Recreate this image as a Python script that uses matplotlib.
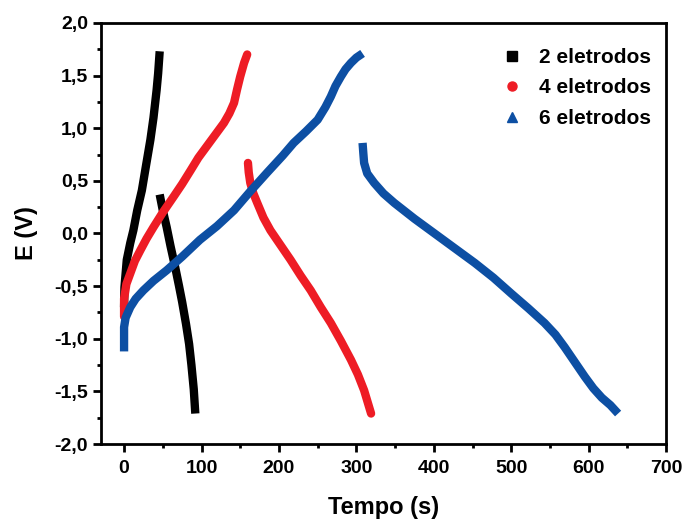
import matplotlib
matplotlib.use("Agg")
import matplotlib.pyplot as plt
from matplotlib.lines import Line2D
from matplotlib.ticker import MultipleLocator, FuncFormatter

plt.rcParams['font.family'] = ['Liberation Sans', 'DejaVu Sans']
plt.rcParams['font.weight'] = 'bold'

labels = ["2 eletrodos", "4 eletrodos", "6 eletrodos"]
colors = ["#000000", "#EE1C25", "#0D4FA3"]
markers = ["s", "o", "^"]

# 2 eletrodos
t2_charge = [0, 0.5, 3.5, 8, 12, 17, 23, 28, 34, 38, 42, 44, 46]
e2_charge = [-0.70, -0.51, -0.25, -0.09, 0.03, 0.22, 0.41, 0.63, 0.89, 1.10, 1.36, 1.52, 1.73]
t2_dis = [46, 50, 55, 60, 66, 71, 75, 80, 84, 87, 90, 92]
e2_dis = [0.37, 0.22, 0.06, -0.12, -0.32, -0.50, -0.65, -0.86, -1.05, -1.25, -1.48, -1.71]

# 4 eletrodos
t4_charge = [0, 0, 3, 8, 14, 21, 29, 38, 50, 64, 75, 86, 96, 107, 118, 129, 136, 142, 146, 150, 155, 159]
e4_charge = [-0.79, -0.62, -0.48, -0.38, -0.26, -0.16, -0.05, 0.06, 0.20, 0.35, 0.47, 0.60, 0.72, 0.83, 0.94, 1.05, 1.14, 1.24, 1.37, 1.49, 1.62, 1.70]
t4_dis = [160, 161, 163, 167, 172, 180, 189, 202, 215, 228, 241, 254, 267, 280, 293, 302, 310, 319]
e4_dis = [0.67, 0.58, 0.48, 0.38, 0.29, 0.15, 0.03, -0.11, -0.25, -0.40, -0.54, -0.70, -0.85, -1.02, -1.20, -1.34, -1.49, -1.71]

# 6 eletrodos
t6_charge = [0, 0, 2, 8, 15, 25, 38, 55, 75, 98, 120, 142, 163, 185, 205, 219, 235, 250, 260, 267, 273, 280, 286, 293, 300, 308]
e6_charge = [-1.12, -0.89, -0.80, -0.70, -0.62, -0.54, -0.45, -0.35, -0.22, -0.06, 0.07, 0.22, 0.40, 0.58, 0.74, 0.86, 0.97, 1.08, 1.20, 1.30, 1.40, 1.49, 1.56, 1.62, 1.67, 1.71]
t6_dis = [308, 309, 310, 314, 323, 335, 349, 375, 401, 427, 453, 477, 500, 522, 543, 557, 569, 582, 595, 606, 617, 628, 638]
e6_dis = [0.86, 0.76, 0.67, 0.57, 0.48, 0.38, 0.29, 0.14, 0.00, -0.14, -0.28, -0.42, -0.57, -0.71, -0.85, -0.96, -1.08, -1.22, -1.36, -1.47, -1.56, -1.63, -1.71]

series = [
    (t2_charge, e2_charge, t2_dis, e2_dis),
    (t4_charge, e4_charge, t4_dis, e4_dis),
    (t6_charge, e6_charge, t6_dis, e6_dis),
]
caps = ["butt", "round", "butt"]

xticks = [0, 100, 200, 300, 400, 500, 600, 700]
yticks = [-2.0, -1.5, -1.0, -0.5, 0.0, 0.5, 1.0, 1.5, 2.0]

fig = plt.figure(figsize=(6.86, 5.20), dpi=100)
ax = fig.add_axes([0.147, 0.146, 0.824, 0.810])

for (tc, ec, td, ed), c, cap in zip(series, colors, caps):
    for tt, ee in ((tc, ec), (td, ed)):
        ax.plot(tt, ee, color=c, lw=6.0, solid_capstyle=cap, solid_joinstyle='round')

ax.set_xlim(-30, 700)
ax.set_ylim(-2.0, 2.0)
ax.set_xticks(xticks)
ax.set_yticks(yticks)
ax.xaxis.set_minor_locator(MultipleLocator(50))
ax.yaxis.set_minor_locator(MultipleLocator(0.25))
ax.yaxis.set_major_formatter(FuncFormatter(lambda v, p: f"{v:.1f}".replace('.', ',')))
ax.xaxis.set_major_formatter(FuncFormatter(lambda v, p: f"{int(round(v))}"))

for s in ax.spines.values():
    s.set_linewidth(2.0)
ax.tick_params(which='major', direction='out', length=5.8, width=2.0, labelsize=14)
ax.tick_params(which='minor', direction='out', length=3.2, width=2.0)
ax.tick_params(axis='x', which='major', pad=5.5)
ax.tick_params(axis='y', which='major', pad=3.5)
for lab in ax.get_xticklabels() + ax.get_yticklabels():
    lab.set_fontweight('bold')

ax.set_xlabel("Tempo (s)", fontsize=17, fontweight='bold', labelpad=14)
ax.set_ylabel("E (V)", fontsize=17, fontweight='bold', labelpad=12)

handles = [Line2D([], [], linestyle='none', marker=m, color=c, markersize=6.5)
           for m, c in zip(markers, colors)]
leg = ax.legend(handles, labels, loc='upper right', frameon=False,
                prop={'size': 15, 'weight': 'bold'}, handletextpad=0.8,
                handlelength=1.0, labelspacing=0.55,
                bbox_to_anchor=(1.007, 0.985))

fig.savefig("out.png", dpi=100)
